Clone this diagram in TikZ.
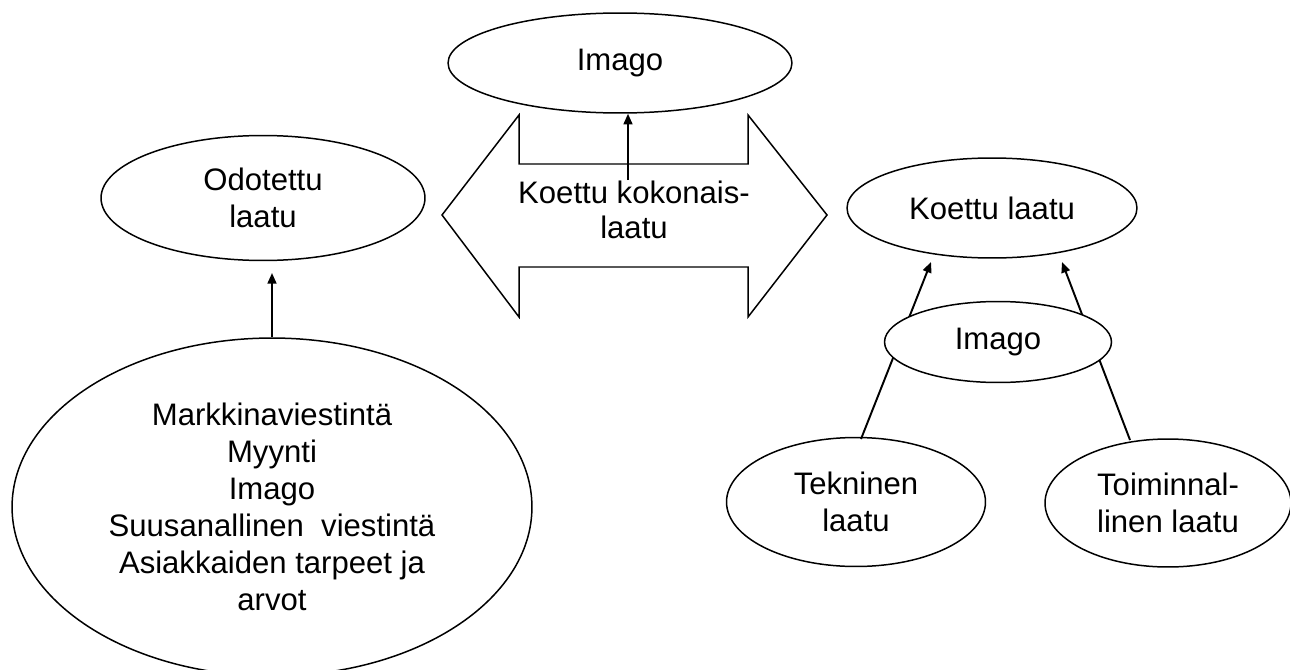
\documentclass[tikz,border=0pt]{standalone}
\usepackage{fontspec}
\setmainfont{Liberation Sans}
\usetikzlibrary{shapes.geometric,arrows.meta}
\begin{document}
\begin{tikzpicture}[x=0.02cm,y=-0.02cm,
  oval/.style={ellipse,draw=black,line width=0.85pt,fill=white,inner sep=0pt,align=center,
    font=\fontsize{17.7pt}{21pt}\selectfont},
  txt/.style={inner sep=0pt,align=center,font=\fontsize{17.7pt}{20pt}\selectfont},
  conn/.style={line width=1.1pt,-{Triangle[length=6pt,width=5pt]}},
  bigarrow/.style={draw=black,line width=0.85pt,fill=white,line join=miter}]
\useasboundingbox (0,0) rectangle (1290,669);
% double arrow
\draw[bigarrow] (442,215) -- (519,115) -- (519,164) -- (748,164) -- (748,115) -- (827,215)
  -- (748,317) -- (748,267) -- (519,267) -- (519,317) -- cycle;
\node[txt] (kokon) at (634,210) {Koettu kokonais-\\laatu};
% ellipses
\node[oval,minimum width=6.88cm,minimum height=2.0cm] (imtop) at (620,63) {Imago};
\node[oval,minimum width=6.48cm,minimum height=2.5cm] (odot) at (263,198) {Odotettu\\laatu};
\node[oval,minimum width=10.4cm,minimum height=6.76cm] (big) at (272,507)
  {Markkinaviestintä\\Myynti\\Imago\\Suusanallinen\ \ viestintä\\Asiakkaiden tarpeet ja\\arvot};
\node[oval,minimum width=5.8cm,minimum height=2.0cm] (koettu) at (992,208) {Koettu laatu};
\node[oval,minimum width=5.18cm,minimum height=2.58cm] (tek) at (856,502) {Tekninen\\laatu};
\node[oval,minimum width=4.92cm,minimum height=2.56cm] (toim) at (1168,503) {Toiminnal-\\linen laatu};
% connectors
\coordinate (odtip) at (272,273);
\coordinate (kstart) at (628,180);
\coordinate (k1) at (931,262);
\coordinate (k2) at (1062,262);
\coordinate (tekA) at (861,439);
\coordinate (toimA) at (1130,440);
\draw[conn] (big.north) -- (odtip);
\draw[conn] (kstart) -- (kstart |- imtop.south);
\draw[conn] (tekA) -- (k1);
\draw[conn] (toimA) -- (k2);
% small imago drawn over the connectors
\node[oval,minimum width=4.54cm,minimum height=1.62cm] (imsmall) at (998,342) {Imago};
\end{tikzpicture}
\end{document}
